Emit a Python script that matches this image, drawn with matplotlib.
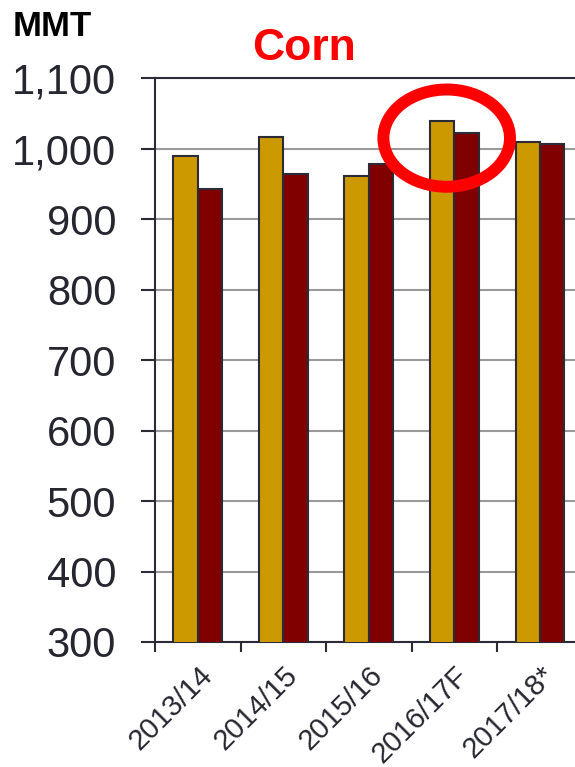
import matplotlib.pyplot as plt
import numpy as np
from matplotlib.patches import Ellipse

plt.rcParams['font.family'] = ['Liberation Sans', 'DejaVu Sans']

# dados
anos = ["2013/14", "2014/15", "2015/16", "2016/17F", "2017/18*"]
producao = [990, 1016, 961, 1040, 1009]
consumo = [943, 964, 979, 1022, 1006]

fig = plt.figure(figsize=(5.75, 7.67), dpi=100)
ax = fig.add_axes([0.2696, 0.163, 0.7304, 0.735])

x = np.arange(len(anos))
w = 0.285
ax.bar(x - w / 2, producao, w, color="#CC9900", edgecolor="#2b2b38", linewidth=1.5, zorder=3)
ax.bar(x + w / 2, consumo, w, color="#800000", edgecolor="#2b2b38", linewidth=1.5, zorder=3)

ax.set_ylim(300, 1100)
ax.set_xlim(-0.5, 4.41)
ax.set_yticks(range(300, 1101, 100))
ax.set_yticklabels([f"{v:,}" for v in range(300, 1101, 100)], fontsize=30, color="#262630")
ax.yaxis.grid(True, color="#999999", linewidth=1.5, zorder=0)

# ticks nas fronteiras das categorias
ax.set_xticks(np.arange(-0.5, 4.5, 1.0))
ax.set_xticklabels([])
ax.set_xticks(x, minor=True)
ax.set_xticklabels(anos, minor=True, rotation=45, ha="right", va="top",
                   fontsize=21, color="#262630", rotation_mode="anchor")
ax.tick_params(axis="x", which="minor", length=0, pad=14)
ax.tick_params(axis="x", which="major", length=7, width=1.5, color="#2b2b38", direction="out")
ax.tick_params(axis="y", length=10, width=1.5, color="#2b2b38", pad=18)

for s in ["left", "bottom", "top"]:
    ax.spines[s].set_color("#2b2b38")
    ax.spines[s].set_linewidth(1.5)
ax.spines["right"].set_visible(False)

ax.add_patch(Ellipse((2.91, 1015), 1.48, 138, fill=False, edgecolor="#FF0000",
                     linewidth=8.6, zorder=5, clip_on=False))

fig.text(0.022, 0.966, "MMT", fontsize=25, fontweight="bold", color="black", va="center")
fig.text(0.529, 0.937, "Corn", fontsize=32, fontweight="bold", color="#FF0000",
         ha="center", va="center")

fig.savefig("out.png", dpi=100)
